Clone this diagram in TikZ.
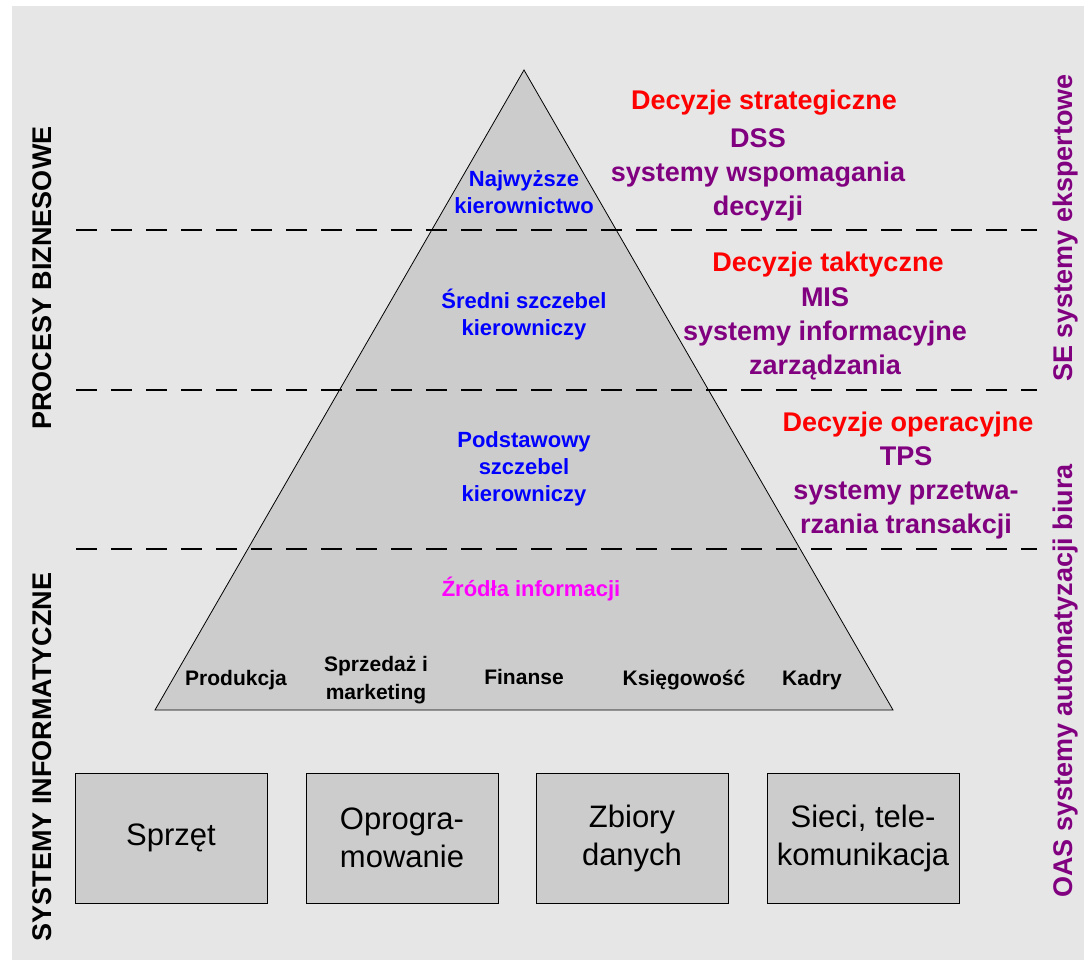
\documentclass[tikz,border=0pt]{standalone}
\usepackage{fontspec}
\setmainfont{Liberation Sans}
\definecolor{bggrey}{RGB}{230,230,230}
\definecolor{pyrgrey}{RGB}{204,204,204}
\definecolor{sysviolet}{RGB}{128,0,128}
\definecolor{srcmagenta}{RGB}{255,0,255}

\begin{document}
\begin{tikzpicture}[x=1pt,y=-1pt,
    level/.style={line width=2.8pt, dash pattern=on 21pt off 14pt},
    rank/.style={text=blue, font=\bfseries\fontsize{22}{27}\selectfont, align=center},
    dept/.style={font=\bfseries\fontsize{21}{28}\selectfont, align=center},
    decision/.style={text=red, font=\bfseries\fontsize{27}{34}\selectfont},
    system/.style={text=sysviolet, font=\bfseries\fontsize{27}{34}\selectfont, align=center},
    side/.style={rotate=90, font=\bfseries\fontsize{27}{32}\selectfont},
    resource/.style={draw, fill=pyrgrey, line width=0.8pt, minimum width=192pt,
        minimum height=130pt, inner sep=0pt, align=center, font=\fontsize{31}{38}\selectfont}]
    \useasboundingbox (0,0) rectangle (1084,960);
    \fill[bggrey] (12,6) rectangle (1084,960);

    % piramida
    \coordinate (apex) at (524,70);
    \coordinate (baseL) at (155,710);
    \coordinate (baseR) at (893,710);
    \filldraw[fill=pyrgrey, draw=black, line width=0.8pt] (apex) -- (baseL) -- (baseR) -- cycle;
    \foreach \y in {230,390,549}
        \draw[level] (76,\y) -- (1037,\y);

    \node[rank] (top) at (524,192) {Najwyższe\\kierownictwo};
    \node[rank] (mid) at (524,315) {Średni szczebel\\kierowniczy};
    \node[rank] (low) at (524,469) {Podstawowy\\szczebel\\kierowniczy};
    \node[rank, text=srcmagenta] (src) at (531,589) {Źródła informacji};

    \node[dept] (prod) at (236,680) {Produkcja};
    \node[dept] (sales) at (376,680) {Sprzedaż i\\marketing};
    \node[dept] (fin) at (524,677) {Finanse};
    \node[dept] (acc) at (684,680) {Księgowość};
    \node[dept] (hr) at (812,680) {Kadry};

    % decyzje
    \node[decision] (strat) at (764,103) {Decyzje strategiczne};
    \node[system] (dss) at (758,175) {DSS\\systemy wspomagania\\decyzji};
    \node[decision] (takt) at (828,265) {Decyzje taktyczne};
    \node[system] (mis) at (825,334) {MIS\\systemy informacyjne\\zarządzania};
    \node[decision] (oper) at (908,425) {Decyzje operacyjne};
    \node[system] (tps) at (906,493) {TPS\\systemy przetwa-\\rzania transakcji};

    \node[side] (proc) at (42,278) {PROCESY BIZNESOWE};
    \node[side] (sysinf) at (42,757) {SYSTEMY INFORMATYCZNE};
    \node[side, text=sysviolet] (se) at (1066,228) {SE systemy ekspertowe};
    \node[side, text=sysviolet] (oas) at (1066,681) {OAS systemy automatyzacji biura};

    \node[resource] (hw) at (171,838) {Sprzęt};
    \node[resource] (sw) at (402,838) {Oprogra-\\mowanie};
    \node[resource] (data) at (632,838) {Zbiory\\danych};
    \node[resource] (net) at (863,838) {Sieci, tele-\\komunikacja};
\end{tikzpicture}
\end{document}
